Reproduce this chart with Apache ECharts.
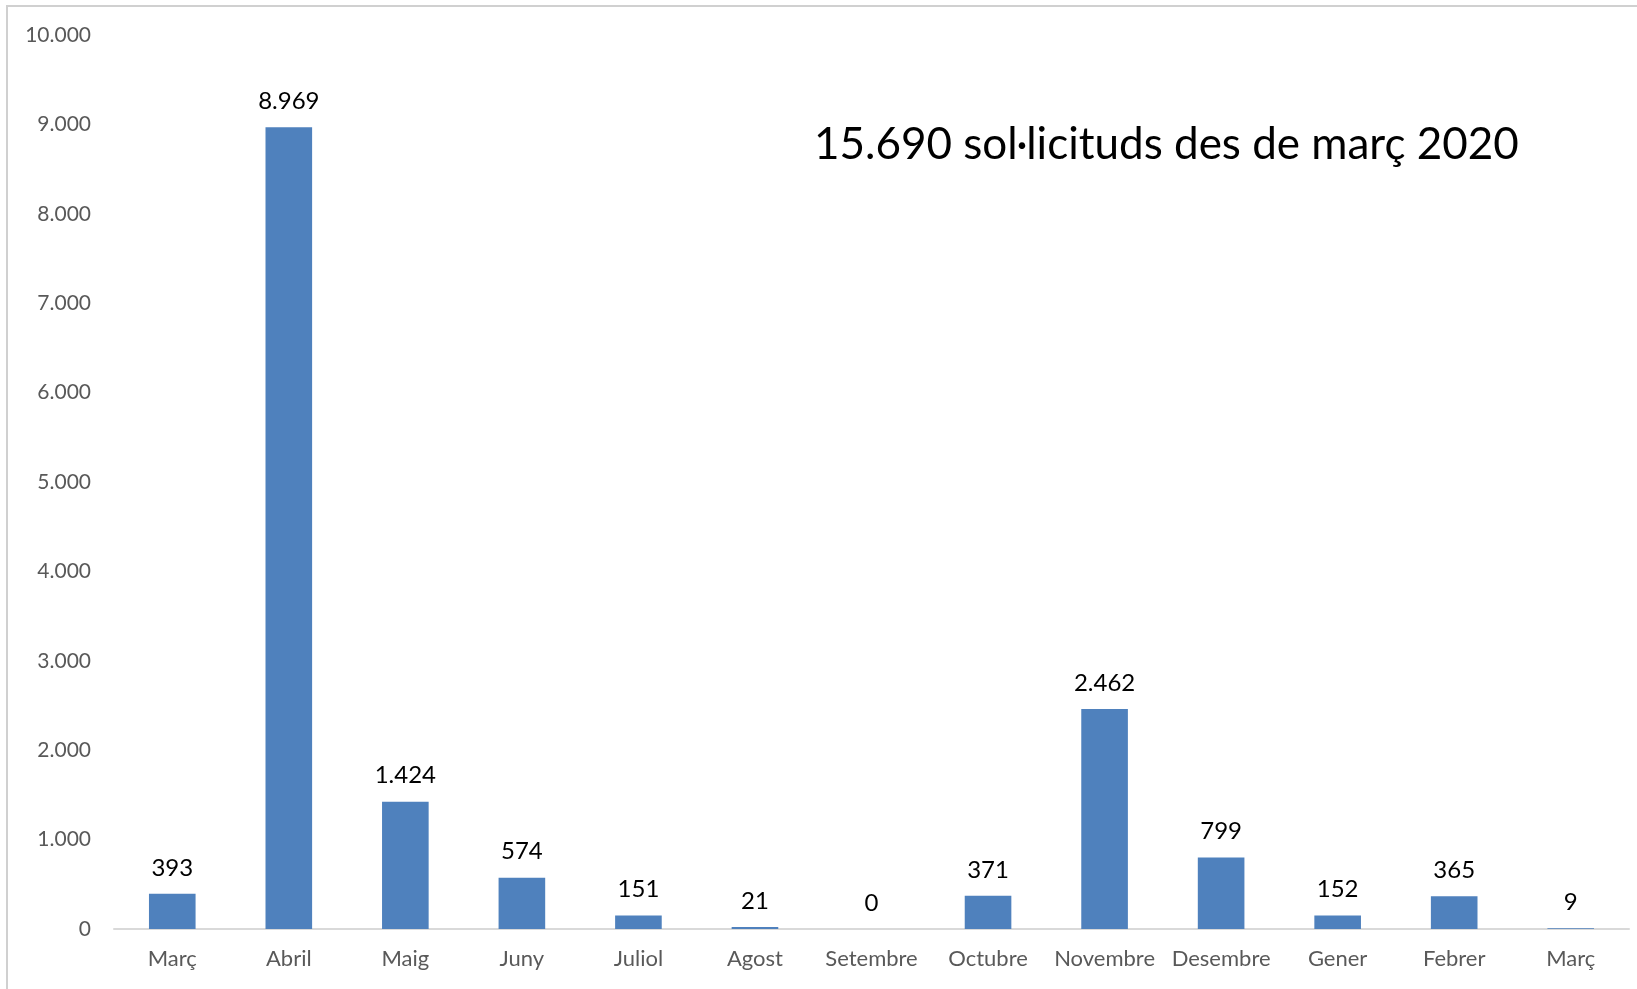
<!DOCTYPE html>
<html>
<head>
<meta charset="utf-8">
<script src="https://cdn.jsdelivr.net/npm/echarts@6/dist/echarts.min.js"></script>
<style>html,body{margin:0;padding:0;background:#fff;}#c{width:1637px;height:989px;}</style>
</head>
<body>
<div id="c"></div>
<script>
const categories = ['Març','Abril','Maig','Juny','Juliol','Agost','Setembre','Octubre','Novembre','Desembre','Gener','Febrer','Març'];
const values = [393, 8969, 1424, 574, 151, 21, 0, 371, 2462, 799, 152, 365, 9];
const titleText = '15.690 sol·licituds des de març 2020';
const yTicks = {min: 0, max: 10000, interval: 1000};

const fmt = v => String(v).replace(/\B(?=(\d{3})+(?!\d))/g, '.');
const FONT = 'Lato, "Open Sans", sans-serif';

const chart = echarts.init(document.getElementById('c'), null, {renderer: 'canvas'});
chart.setOption({
  backgroundColor: '#fff',
  animation: false,
  grid: {left: 114, right: 8, top: 35, bottom: 60, containLabel: false},
  xAxis: {
    type: 'category',
    data: categories,
    axisLine: {lineStyle: {color: '#D9D9D9', width: 2}},
    axisTick: {show: false},
    axisLabel: {interval: 0, color: '#595959', fontSize: 22, fontFamily: FONT, margin: 19}
  },
  yAxis: {
    type: 'value',
    min: yTicks.min, max: yTicks.max, interval: yTicks.interval,
    splitLine: {show: false},
    axisLine: {show: false},
    axisTick: {show: false},
    axisLabel: {color: '#595959', fontSize: 21, fontFamily: FONT, margin: 23, formatter: fmt}
  },
  series: [{
    type: 'bar',
    data: values,
    barWidth: '40%',
    itemStyle: {color: '#4F81BD'},
    label: {show: true, position: 'top', distance: 14, color: '#000', fontSize: 24, fontFamily: FONT,
      formatter: p => fmt(p.value)}
  }],
  graphic: [
    {type: 'rect', shape: {x: 7, y: 6, width: 1700, height: 1100}, style: {fill: 'none', stroke: '#D0D0D0', lineWidth: 2}, silent: true},
    {type: 'text', left: 814, top: 123, style: {text: titleText, fill: '#000', fontSize: 44, fontFamily: FONT}}
  ]
});
</script>
</body>
</html>
